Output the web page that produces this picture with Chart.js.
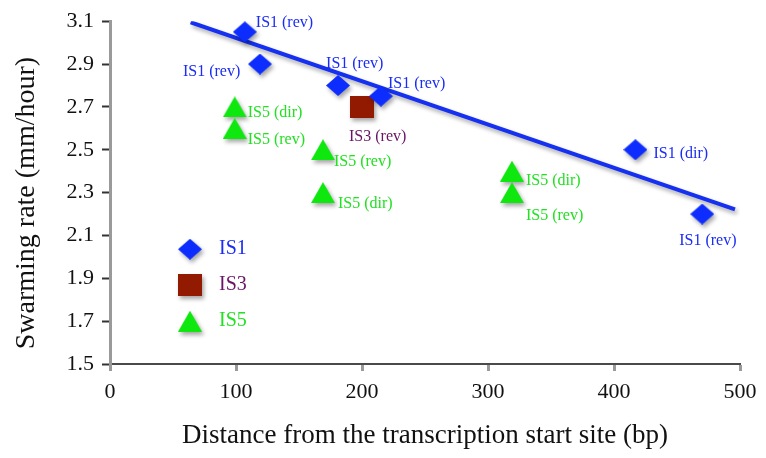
<!DOCTYPE html>
<html>
<head>
<meta charset="utf-8">
<script src="https://cdn.jsdelivr.net/npm/chart.js@4.4.1/dist/chart.umd.min.js"></script>
<style>
  html, body { margin: 0; padding: 0; background: #fff; }
  #wrap { width: 766px; height: 458px; }
</style>
</head>
<body>
<div id="wrap"><canvas id="c"></canvas></div>
<script>
// Swarming rate against insertion distance from the transcription start site
const is1X = [107, 119, 181, 215, 417, 470];
const is1Y = [3.05, 2.9, 2.8, 2.75, 2.5, 2.2];
const is1Tags = ['IS1 (rev)', 'IS1 (rev)', 'IS1 (rev)', 'IS1 (rev)', 'IS1 (dir)', 'IS1 (rev)'];

const is3X = [200];
const is3Y = [2.7];
const is3Tags = ['IS3 (rev)'];

const is5X = [99, 99, 169, 169, 319, 319];
const is5Y = [2.7, 2.6, 2.5, 2.3, 2.4, 2.3];
const is5Tags = ['IS5 (dir)', 'IS5 (rev)', 'IS5 (rev)', 'IS5 (dir)', 'IS5 (dir)', 'IS5 (rev)'];

// fitted trend through the IS1 insertions
const trendX = [64, 496];
const trendY = [3.095, 2.222];

const xTicks = [0, 100, 200, 300, 400, 500];
const yTicks = [1.5, 1.7, 1.9, 2.1, 2.3, 2.5, 2.7, 2.9, 3.1];

// label placement next to each marker: [dx, dy] in pixels
const is1TagOffsets = [[11, -9], [-77, 8], [-12, -22], [7, -12], [18, 4], [-23, 27]];
const is3TagOffsets = [[-13, 30]];
const is5TagOffsets = [[13, 6], [13, 11], [11, 12], [15, 11], [14, 10], [14, 23]];

const SERIF = '"Liberation Serif", "Times New Roman", serif';

function marker(shape, color, w, h) {
  const c = document.createElement('canvas');
  c.width = w; c.height = h;
  const g = c.getContext('2d');
  g.fillStyle = color;
  g.beginPath();
  if (shape === 'diamond') {
    g.moveTo(w / 2, 0); g.lineTo(w, h / 2); g.lineTo(w / 2, h); g.lineTo(0, h / 2);
  } else if (shape === 'triangle') {
    g.moveTo(w / 2, 0); g.lineTo(w, h); g.lineTo(0, h);
  } else {
    g.rect(0, 0, w, h);
  }
  g.closePath();
  g.fill();
  return c;
}

const diamondImg = marker('diamond', '#0d2dff', 24, 21);
const squareImg = marker('square', '#921a00', 24, 22);
const triangleImg = marker('triangle', '#0ee80e', 24, 21);

const pts = (xs, ys) => xs.map((x, i) => ({ x: x, y: ys[i] }));

function setShadow(ctx) {
  ctx.shadowColor = 'rgba(0,0,0,0.35)';
  ctx.shadowBlur = 4;
  ctx.shadowOffsetX = 2;
  ctx.shadowOffsetY = 3;
}

const shadowPlugin = {
  id: 'markShadow',
  beforeDatasetsDraw(chart) {
    chart.ctx.save();
    setShadow(chart.ctx);
  },
  afterDatasetsDraw(chart) {
    chart.ctx.restore();
  }
};

const tagPlugin = {
  id: 'pointTags',
  afterDraw(chart) {
    const ctx = chart.ctx;
    ctx.save();
    ctx.textBaseline = 'middle';
    ctx.textAlign = 'left';
    chart.data.datasets.forEach((ds, di) => {
      if (!ds.tags) return;
      const meta = chart.getDatasetMeta(di);
      ctx.font = '16px ' + SERIF;
      ctx.fillStyle = ds.tagColor;
      meta.data.forEach((el, i) => {
        const off = ds.tagOffsets[i];
        ctx.fillText(ds.tags[i], el.x + off[0], el.y + off[1]);
      });
    });
    // key, inside the plot area
    const a = chart.chartArea;
    let row = 0;
    chart.data.datasets.forEach((ds) => {
      if (!ds.tags) return;
      const cx = a.left + 80;
      const cy = a.top + 228 + row * 36;
      ctx.save();
      setShadow(ctx);
      const img = ds.pointStyle;
      ctx.drawImage(img, cx - img.width / 2, cy - img.height / 2);
      ctx.restore();
      ctx.font = '20px ' + SERIF;
      ctx.fillStyle = ds.tagColor;
      ctx.fillText(ds.label, cx + 29, cy);
      row++;
    });
    ctx.restore();
  }
};

new Chart(document.getElementById('c'), {
  type: 'scatter',
  data: {
    datasets: [
      {
        type: 'line',
        label: 'trend',
        data: pts(trendX, trendY),
        borderColor: '#1530f0',
        borderWidth: 4,
        pointRadius: 0,
        fill: false,
        order: 4
      },
      {
        label: 'IS1',
        data: pts(is1X, is1Y),
        tags: is1Tags,
        tagOffsets: is1TagOffsets,
        tagColor: '#1a2cf5',
        pointStyle: diamondImg,
        order: 1
      },
      {
        label: 'IS3',
        data: pts(is3X, is3Y),
        tags: is3Tags,
        tagOffsets: is3TagOffsets,
        tagColor: '#6a1466',
        pointStyle: squareImg,
        order: 2
      },
      {
        label: 'IS5',
        data: pts(is5X, is5Y),
        tags: is5Tags,
        tagOffsets: is5TagOffsets,
        tagColor: '#22e022',
        pointStyle: triangleImg,
        order: 3
      }
    ]
  },
  options: {
    responsive: true,
    maintainAspectRatio: false,
    animation: false,
    events: [],
    layout: { padding: { top: 19, right: 26, left: 0, bottom: 0 } },
    plugins: { legend: { display: false }, tooltip: { enabled: false } },
    scales: {
      x: {
        type: 'linear',
        min: 0,
        max: 500,
        afterBuildTicks: (s) => { s.ticks = xTicks.map(v => ({ value: v })); },
        afterFit: (s) => { s.height = 94; },
        grid: { drawOnChartArea: false, drawTicks: true, tickLength: 7, tickColor: '#9a9a9a', tickWidth: 3 },
        border: { display: true, color: '#4a4a4a', width: 2 },
        ticks: { color: '#111', padding: 8, maxRotation: 0, font: { family: SERIF, size: 22 } },
        title: {
          display: true,
          text: 'Distance from the transcription start site (bp)',
          color: '#111',
          padding: { top: 0, bottom: 6 },
          font: { family: SERIF, size: 27 }
        }
      },
      y: {
        type: 'linear',
        min: 1.5,
        max: 3.1,
        afterBuildTicks: (s) => { s.ticks = yTicks.map(v => ({ value: v })); },
        afterFit: (s) => { s.width = 110; },
        grid: { drawOnChartArea: false, drawTicks: true, tickLength: 8, tickColor: '#333', tickWidth: 2 },
        border: { display: true, color: '#9a9a9a', width: 3 },
        ticks: {
          color: '#111',
          padding: 8,
          font: { family: SERIF, size: 22 },
          callback: (v) => Number(v).toFixed(1)
        },
        title: {
          display: true,
          text: 'Swarming rate (mm/hour)   ',
          color: '#111',
          padding: { top: 10, bottom: 0 },
          font: { family: SERIF, size: 28 }
        }
      }
    }
  },
  plugins: [shadowPlugin, tagPlugin]
});
</script>
</body>
</html>
